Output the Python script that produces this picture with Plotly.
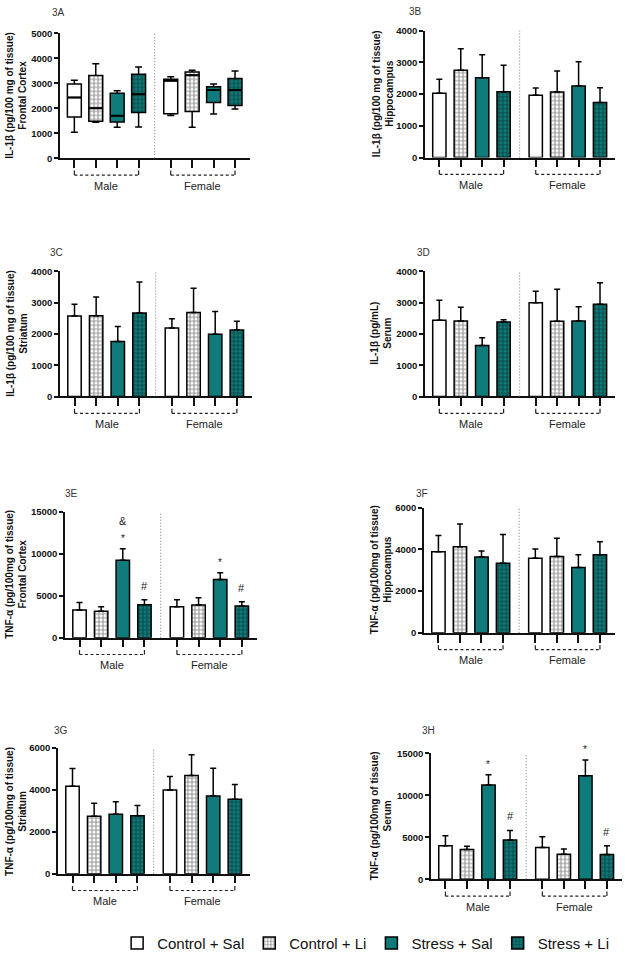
import plotly.graph_objects as go

W, H = 625, 965
FONT = "Liberation Sans, Arial, sans-serif"
TEAL = "#0F7B7A"

groups = ["Control + Sal", "Control + Li", "Stress + Sal", "Stress + Li"]
sexes = ["Male", "Female"]
pos_male = [1, 2, 3, 4]
pos_female = [5.5, 6.5, 7.5, 8.5]
divider_x = 4.75

# ---- Panel 3A (box plots) : per group -> [male, female]
a_upper = [[3128, 3259], [3787, 3523], [2705, 2969], [3656, 3496]]
a_q3 = [[2969, 3167], [3312, 3457], [2600, 2863], [3365, 3194]]
a_median = [[2428, 3100], [2006, 3325], [1702, 2732], [2560, 2732]]
a_q1 = [[1649, 1782], [1478, 1874], [1452, 2229], [1834, 2110]]
a_lower = [[1043, 1715], [1438, 1240], [1240, 1768], [1253, 1967]]

# ---- Bar panels: order = Male(C+Sal, C+Li, S+Sal, S+Li), Female(same)
b_mean = [2026, 2753, 2514, 2078, 1964, 2068, 2255, 1735]
b_sem = [447, 676, 728, 831, 228, 665, 769, 468]
c_mean = [2569, 2580, 1758, 2664, 2190, 2685, 1990, 2127]
c_sem = [379, 600, 474, 990, 295, 769, 727, 274]
d_mean = [2432, 2411, 1632, 2380, 2990, 2401, 2411, 2948]
d_sem = [643, 443, 242, 73, 369, 1021, 453, 685]
e_mean = [3299, 3142, 9228, 3927, 3691, 3888, 6951, 3770]
e_sem = [903, 549, 1375, 589, 825, 864, 785, 510]
f_mean = [3884, 4121, 3632, 3332, 3569, 3648, 3127, 3742]
f_sem = [774, 1090, 284, 1373, 442, 884, 615, 616]
g_mean = [4174, 2741, 2835, 2772, 4001, 4694, 3717, 3560]
g_sem = [850, 630, 599, 488, 645, 992, 1323, 708]
h_mean = [4005, 3534, 11231, 4673, 3770, 2985, 12331, 2945]
h_sem = [1179, 393, 1218, 1139, 1296, 628, 1885, 1060]

panel_labels = ["3A", "3B", "3C", "3D", "3E", "3F", "3G", "3H"]
y_titles = [
    "IL-1β (pg/100 mg of tissue)<br>Frontal Cortex",
    "IL-1β (pg/100 mg of tissue)<br>Hippocampus",
    "IL-1β (pg/100 mg of tissue)<br>Striatum",
    "IL-1β (pg/mL)<br>Serum",
    "TNF-α (pg/100mg of tissue)<br>Frontal Cortex",
    "TNF-α (pg/100mg of tissue)<br>Hippocampus",
    "TNF-α (pg/100mg of tissue)<br>Striatum",
    "TNF-α (pg/100mg of tissue)<br>Serum",
]
y_max = [5000, 4000, 4000, 4000, 15000, 6000, 6000, 15000]
y_dtick = [1000, 1000, 1000, 1000, 5000, 2000, 2000, 5000]

bar_data = {2: (b_mean, b_sem), 3: (c_mean, c_sem), 4: (d_mean, d_sem),
            5: (e_mean, e_sem), 6: (f_mean, f_sem), 7: (g_mean, g_sem),
            8: (h_mean, h_sem)}

# significance marks: (panel, bar index, text)
sig_marks = [(5, 2, "*"), (5, 2, "&"), (5, 3, "#"), (5, 6, "*"), (5, 7, "#"),
             (8, 2, "*"), (8, 3, "#"), (8, 6, "*"), (8, 7, "#")]

# ---- Geometry (pixels): left, right, top, bottom of each plot area
geom = {
    1: (60, 250, 27.7, 154),
    2: (425, 615, 25, 153.3),
    3: (60, 252, 268.3, 395),
    4: (425, 615, 268.3, 395),
    5: (65, 257, 511.7, 639),
    6: (424, 615, 507.3, 634),
    7: (58, 250, 750.7, 877.7),
    8: (431, 622, 756, 883.3),
}
title_off = {1: 44, 2: 42, 3: 43, 4: 44, 5: 49, 6: 43, 7: 42, 8: 50}
label_pos = {1: (50, 7), 2: (407, 6), 3: (48, 249), 4: (415, 249),
             5: (63, 493), 6: (414, 493), 7: (52, 733), 8: (420, 733)}
XR = [0.33, 9.2]
BARW = 0.62


def style(gi):
    if gi == 0:
        return dict(color="white")
    if gi == 1:
        return dict(color="white", pattern=dict(shape="+", fgcolor="#222", size=4,
                                                solidity=0.45, fillmode="overlay"))
    if gi == 2:
        return dict(color=TEAL)
    return dict(color=TEAL, pattern=dict(shape="+", fgcolor="#0a1a1a", size=4,
                                         solidity=0.45, fillmode="overlay"))


def axid(i):
    return ("x", "y") if i == 1 else (f"x{i}", f"y{i}")


fig = go.Figure()

# Panel A: patterned fill bars (q1..q3) under transparent boxes
xa, ya = axid(1)
for gi, g in enumerate(groups):
    base = a_q1[gi]
    hgt = [a_q3[gi][k] - a_q1[gi][k] for k in range(2)]
    fig.add_trace(go.Bar(x=[pos_male[gi], pos_female[gi]], y=hgt, base=base,
                         width=0.65, marker=dict(**style(gi), line=dict(width=0)),
                         showlegend=False, xaxis=xa, yaxis=ya, hoverinfo="skip"))
    fig.add_trace(go.Box(x=[pos_male[gi], pos_female[gi]], q1=a_q1[gi], median=a_median[gi],
                         q3=a_q3[gi], lowerfence=a_lower[gi], upperfence=a_upper[gi],
                         width=0.65, whiskerwidth=0.5, fillcolor="rgba(0,0,0,0)",
                         line=dict(color="black", width=1.5), boxpoints=False,
                         showlegend=False, xaxis=xa, yaxis=ya))

# Bar panels
for i, (mean, sem) in bar_data.items():
    xa, ya = axid(i)
    for gi, g in enumerate(groups):
        idx = [gi, gi + 4]
        fig.add_trace(go.Bar(
            x=[pos_male[gi], pos_female[gi]], y=[mean[k] for k in idx],
            width=BARW, name=g, legendgroup=g, showlegend=(i == 2),
            marker=dict(**style(gi), line=dict(color="black", width=1.5)),
            error_y=dict(type="data", symmetric=False, array=[sem[k] for k in idx],
                         arrayminus=[0, 0], color="black", thickness=1.5, width=3),
            xaxis=xa, yaxis=ya))

layout = dict(width=W, height=H, margin=dict(l=0, r=0, t=0, b=0),
              paper_bgcolor="white", plot_bgcolor="white", barmode="overlay",
              font=dict(family=FONT, color="black"),
              legend=dict(orientation="h", x=0.585, xanchor="center",
                          y=1 - 948 / H, yanchor="middle",
                          font=dict(size=15, family=FONT, color="#111"),
                          itemwidth=30, traceorder="normal"))
shapes, annotations = [], []
for i in range(1, 9):
    l, r, t, b = geom[i]
    h = b - t
    xk = "xaxis" if i == 1 else f"xaxis{i}"
    yk = "yaxis" if i == 1 else f"yaxis{i}"
    xa, ya = axid(i)
    tv = list(range(0, y_max[i - 1] + 1, y_dtick[i - 1]))
    layout[xk] = dict(domain=[l / W, r / W], range=XR, anchor=ya,
                      tickvals=pos_male + pos_female, showticklabels=False,
                      ticks="outside", ticklen=8, tickwidth=1.5, tickcolor="#111",
                      showline=True, linecolor="#111", linewidth=1.5,
                      showgrid=False, zeroline=False, fixedrange=True)
    layout[yk] = dict(domain=[1 - b / H, 1 - t / H], range=[0, y_max[i - 1]], anchor=xa,
                      tickvals=tv, ticktext=[str(v) for v in tv],
                      ticks="outside", ticklen=4, tickwidth=1.5, tickcolor="#111",
                      tickfont=dict(size=9.5, family=FONT, color="#111", weight="bold"),
                      showline=True, linecolor="#111", linewidth=1.5,
                      showgrid=False, zeroline=False, fixedrange=True)
    ydom = f"{ya} domain"
    # divider
    shapes.append(dict(type="line", xref=xa, yref=ydom, x0=divider_x, x1=divider_x,
                       y0=0, y1=1, line=dict(color="#777", width=1, dash="1px,2px")))
    # brackets + sex labels
    by = -17 / h
    bt = -12.5 / h
    for sex, ps in zip(sexes, [pos_male, pos_female]):
        shapes.append(dict(type="line", xref=xa, yref=ydom, x0=ps[0], x1=ps[-1],
                           y0=by, y1=by, line=dict(color="#222", width=1.2, dash="3px,2.5px")))
        for xe in (ps[0], ps[-1]):
            shapes.append(dict(type="line", xref=xa, yref=ydom, x0=xe, x1=xe,
                               y0=by, y1=bt, line=dict(color="#222", width=1.2)))
        annotations.append(dict(text=sex, xref=xa, yref=ydom, x=(ps[0] + ps[-1]) / 2,
                                y=-28 / h, xanchor="center", yanchor="middle",
                                showarrow=False, font=dict(size=11, family=FONT, color="#222")))
    # y title
    annotations.append(dict(text=y_titles[i - 1], xref=f"{xa} domain", yref=ydom,
                            x=0, y=0.5, xshift=-title_off[i], xanchor="center",
                            yanchor="middle", textangle=-90, showarrow=False,
                            font=dict(size=10, family=FONT, color="#111", weight="bold")))
    # panel label
    lx, lyp = label_pos[i]
    annotations.append(dict(text=panel_labels[i - 1], xref="paper", yref="paper",
                            x=lx / W, y=1 - lyp / H, xanchor="left", yanchor="middle",
                            showarrow=False, font=dict(size=10, family=FONT, color="#333")))

# median lines of panel A drawn heavier (from the same box statistics)
xa, ya = axid(1)
for gi in range(4):
    for k, ps in enumerate([pos_male, pos_female]):
        shapes.append(dict(type="line", xref=xa, yref=ya, x0=ps[gi] - 0.325, x1=ps[gi] + 0.325,
                           y0=a_median[gi][k], y1=a_median[gi][k],
                           line=dict(color="black", width=2)))

# significance marks
for (i, k, txt) in sig_marks:
    mean, sem = bar_data[i]
    xa, ya = axid(i)
    xpos = (pos_male + pos_female)[k]
    ys = {"*": 3, "#": 6, "&": 20}[txt]
    annotations.append(dict(text=txt, xref=xa, yref=ya, x=xpos, y=mean[k] + sem[k],
                            yanchor="bottom", xanchor="center", yshift=ys, showarrow=False,
                            font=dict(size=11 if txt != "*" else 10, family=FONT, color="#222")))

layout["shapes"] = shapes
layout["annotations"] = annotations
fig.update_layout(**layout)
fig.write_html("out.html")
